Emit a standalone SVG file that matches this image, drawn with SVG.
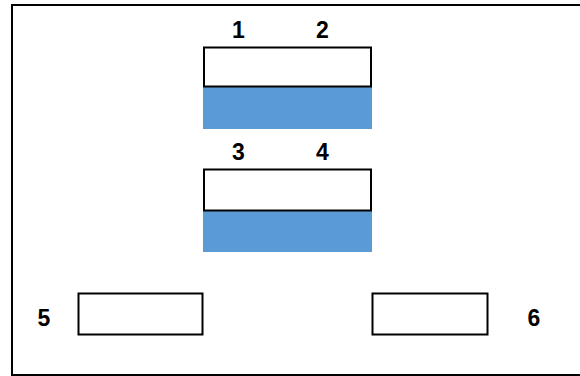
<svg xmlns="http://www.w3.org/2000/svg" width="580" height="376" viewBox="0 0 580 376">
<style>
.box{fill:#fff;stroke:#000;stroke-width:2}
.blue{fill:#5B9BD5}
.lbl{font-family:"Liberation Sans",Arial,sans-serif;font-weight:bold;font-size:23px;text-anchor:middle;fill:#000}
</style>
<rect x="0" y="0" width="580" height="376" fill="#fff"/>
<rect x="12" y="5" width="580" height="370" fill="none" stroke="#000" stroke-width="2"/>
<g id="node-top">
<rect class="blue" x="203" y="87" width="169" height="42"/>
<rect class="box" x="204" y="47.5" width="167" height="39"/>
<text class="lbl" x="238.5" y="38">1</text>
<text class="lbl" x="322.5" y="38">2</text>
</g>
<g id="node-middle">
<rect class="blue" x="203" y="211" width="169" height="41"/>
<rect class="box" x="204" y="169.5" width="167" height="41"/>
<text class="lbl" x="238.5" y="160">3</text>
<text class="lbl" x="322.5" y="160">4</text>
</g>
<g id="node-5">
<rect class="box" x="78.5" y="293.5" width="124" height="41"/>
<text class="lbl" x="44" y="326">5</text>
</g>
<g id="node-6">
<rect class="box" x="372.5" y="293.5" width="115" height="41"/>
<text class="lbl" x="534" y="326">6</text>
</g>
<g id="connectors"></g>
</svg>
